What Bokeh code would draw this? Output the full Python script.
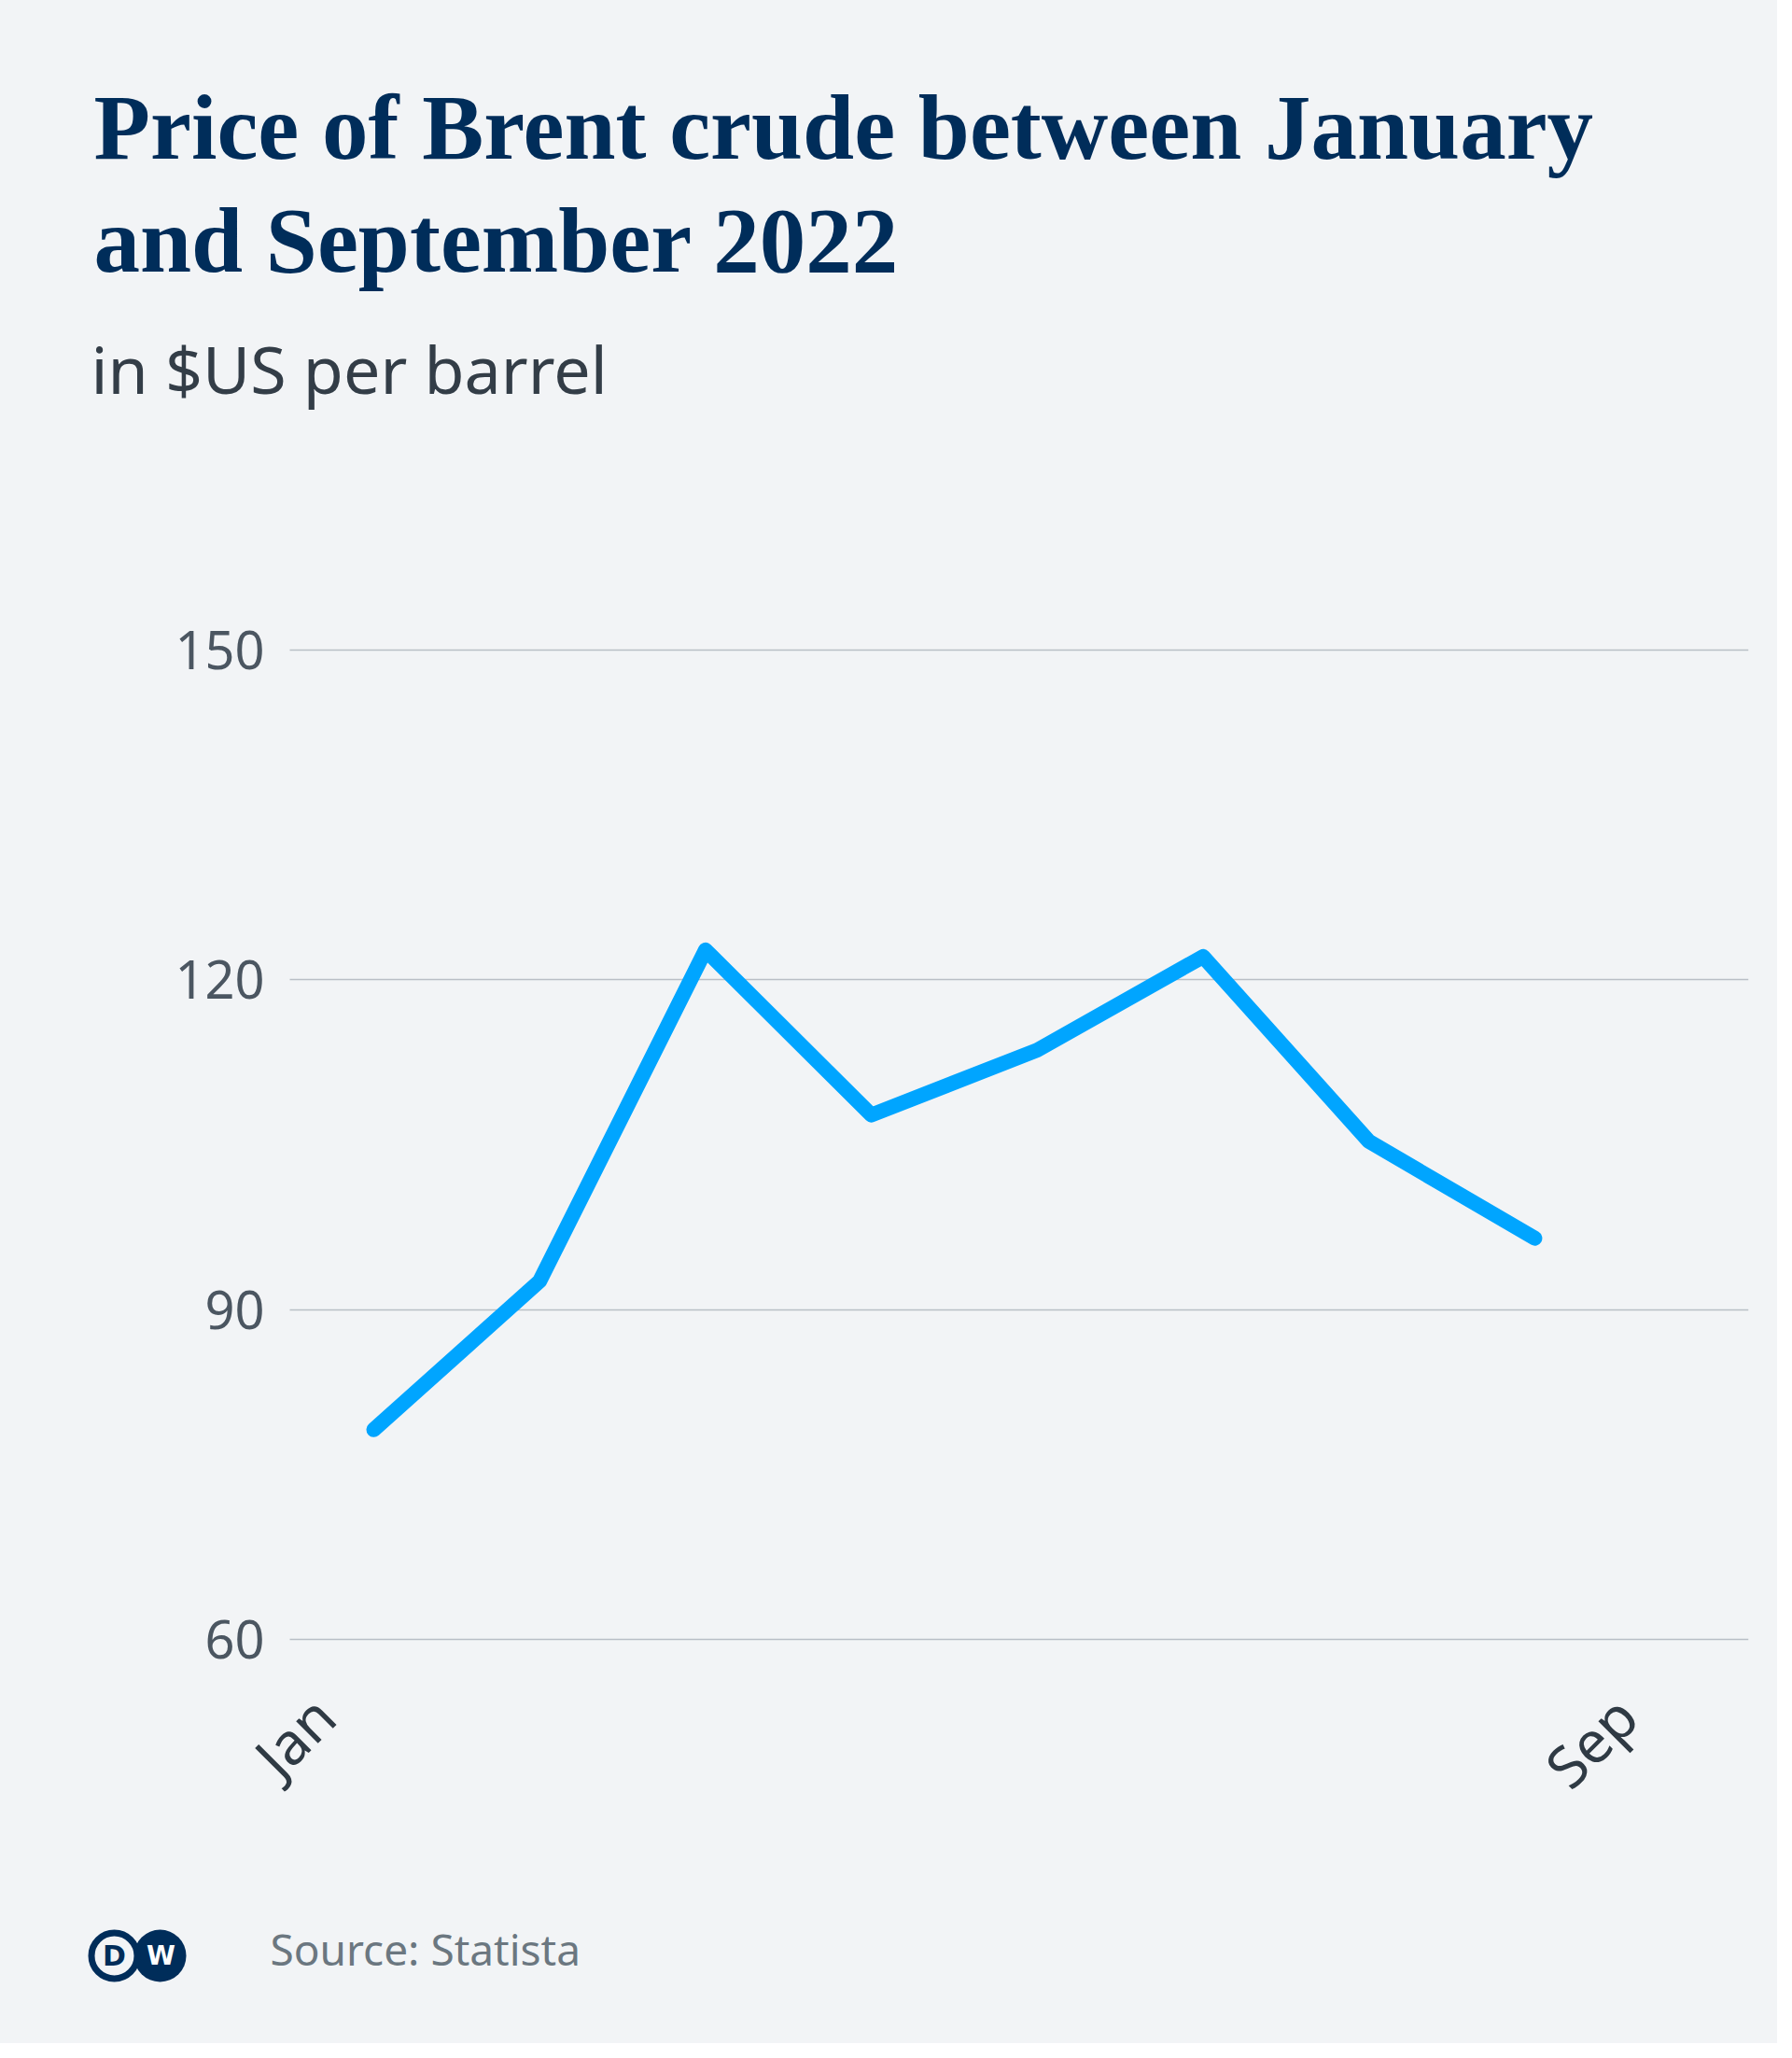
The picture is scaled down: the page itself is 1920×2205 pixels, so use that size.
import math
from bokeh.plotting import figure
from bokeh.layouts import column
from bokeh.models import FixedTicker, Range1d, CustomJSTickFormatter
from bokeh.core.properties import value
from bokeh.embed import file_html
from bokeh.resources import INLINE

# ---- data ----
months = ["Jan", "Feb", "Mar", "Apr", "May", "Jun", "Jul", "Aug"]
month_index = [0, 1, 2, 3, 4, 5, 6, 7]
prices = [79.1, 92.6, 122.7, 107.7, 113.6, 122.1, 105.3, 96.5]
y_ticks = [60, 90, 120, 150]
x_tick_positions = [-0.3, 7.55]
x_tick_labels = ["Jan", "Sep"]
title_lines = ["Price of Brent crude between January", "and September 2022"]
subtitle = "in $US per barrel"
source = "Source: Statista"

# ---- style / geometry (pixels) ----
BG = "#f2f4f6"
NAVY = "#002d5a"
W = 1904
TOP_H, MAIN_H, BOT_H = 500, 1490, 199
FL, FR = 80, 1873                 # common frame left / right (page px)
X0_PX, X_STEP = 400.0, 177.7      # first month pixel, pixels per month


def fx(px):
    return (px - X0_PX) / X_STEP


def blank(h):
    f = figure(width=W, height=h, output_backend="svg", toolbar_location=None,
               x_range=Range1d(FL, FR), y_range=Range1d(0, h),
               x_axis_type=None, y_axis_type=None,
               min_border=0, min_border_left=FL, min_border_right=W - FR,
               min_border_top=0, min_border_bottom=0,
               background_fill_color=BG, border_fill_color=BG,
               outline_line_color=None)
    f.xgrid.visible = False
    f.ygrid.visible = False
    return f


# ---- header ----
top = blank(TOP_H)
top.text(x=[100, 100], y=[TOP_H - 136, TOP_H - 257], text=title_lines,
         text_font=value("Liberation Serif"), text_font_style="bold",
         text_font_size="99px", text_color=NAVY, text_baseline="alphabetic")
top.text(x=[97], y=[TOP_H - 394], text=[subtitle],
         text_font=value("Noto Sans"), text_font_size="70px",
         text_color="#333d47", text_baseline="alphabetic")

# ---- chart ----
MT = 172
FRAME_H = 1108
MB = MAIN_H - MT - FRAME_H
p = figure(width=W, height=MAIN_H, output_backend="svg", toolbar_location=None,
           x_range=Range1d(fx(FL), fx(FR)), y_range=Range1d(58, 152),
           min_border_left=FL, min_border_right=W - FR,
           min_border_top=MT, min_border_bottom=MB,
           background_fill_color=BG, border_fill_color=BG,
           outline_line_color=None)

p.line(month_index, prices, line_width=16, line_color="#00a5ff",
       line_cap="round", line_join="round")

p.yaxis.ticker = FixedTicker(ticks=y_ticks)
p.xaxis.ticker = FixedTicker(ticks=x_tick_positions)
p.xaxis.formatter = CustomJSTickFormatter(
    args=dict(pos=x_tick_positions, labels=x_tick_labels),
    code="""
let best = 0;
for (let i = 1; i < pos.length; i++) {
  if (Math.abs(pos[i] - tick) < Math.abs(pos[best] - tick)) best = i;
}
return labels[best];
""")
p.xaxis.major_label_orientation = math.pi / 4
for ax in (p.xaxis, p.yaxis):
    ax.axis_line_color = None
    ax.major_tick_line_color = None
    ax.minor_tick_line_color = None
    ax.major_tick_out = 0
    ax.major_tick_in = 0
    ax.major_label_text_font = "Noto Sans"
p.yaxis.major_label_text_font_size = "56px"
p.yaxis.major_label_text_color = "#4b5661"
p.yaxis.major_label_standoff = -(283 - FL)
p.xaxis.major_label_text_font_size = "62px"
p.xaxis.major_label_text_color = "#2f3a44"
p.xaxis.major_label_standoff = 47

p.xgrid.visible = False
p.ygrid.grid_line_color = "#b9bfc6"
p.ygrid.grid_line_width = 1.5
p.ygrid.cross_bounds = (fx(310), fx(1873))

# ---- footer ----
bot = blank(BOT_H)
Y0 = TOP_H + MAIN_H
logo_y = Y0 + BOT_H - 2095
bot.scatter(x=[171], y=[logo_y], marker="circle", size=56,
            fill_color=NAVY, line_color=None)
bot.scatter(x=[122], y=[logo_y], marker="circle", size=49,
            fill_color=BG, line_color=NAVY, line_width=7)
bot.text(x=[122], y=[logo_y], text=["D"], text_font=value("DejaVu Sans"),
         text_font_style="bold", text_font_size="30px", text_color=NAVY,
         text_align="center", text_baseline="middle")
bot.text(x=[172], y=[logo_y], text=["W"], text_font=value("DejaVu Sans"),
         text_font_style="bold", text_font_size="28px", text_color="white",
         text_align="center", text_baseline="middle")
bot.text(x=[289], y=[Y0 + BOT_H - 2087], text=[source],
         text_font=value("Noto Sans"), text_font_size="46px",
         text_color="#6b7780", text_baseline="alphabetic")

layout = column(top, p, bot, spacing=0, styles={"background-color": BG})
open("out.html", "w").write(file_html(layout, INLINE))
